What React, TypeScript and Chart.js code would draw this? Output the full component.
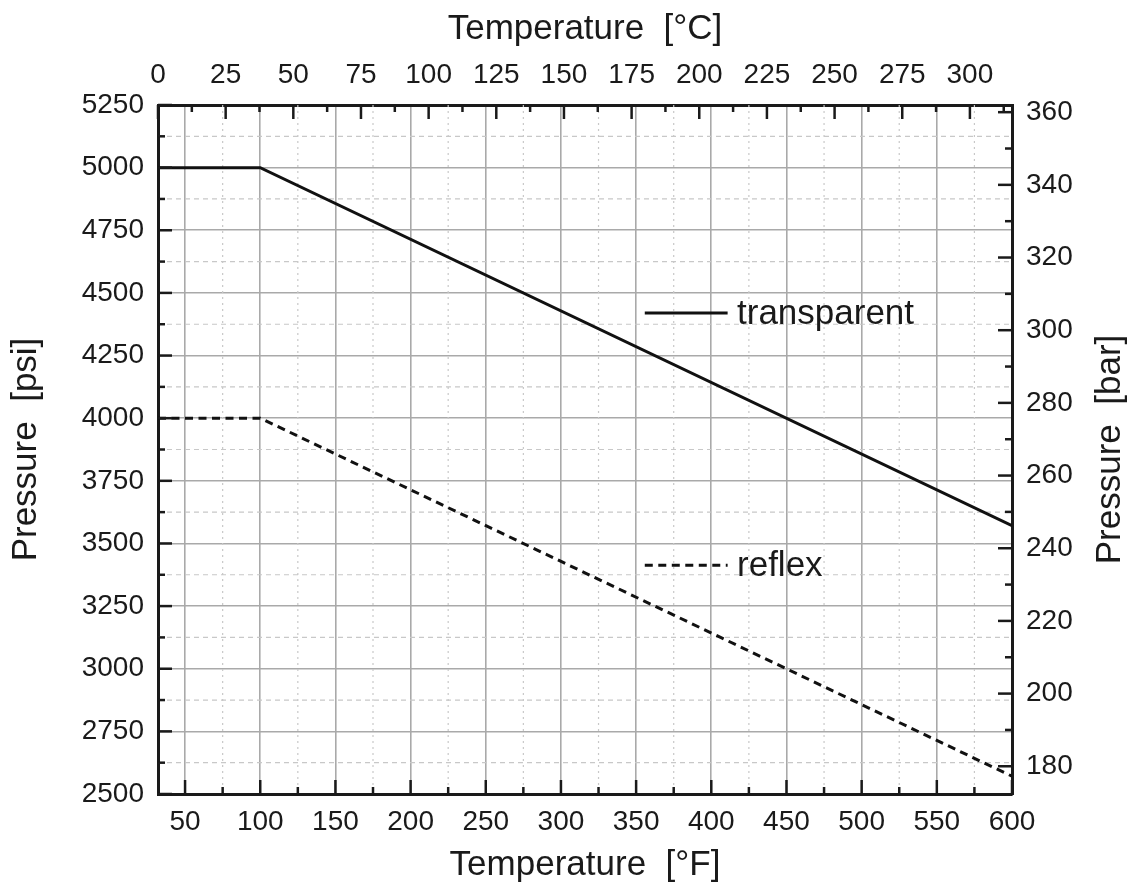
import React, { useEffect, useRef } from "react";
import { Chart, registerables } from "chart.js";

Chart.register(...registerables);

// ---------- data ----------
const seriesLabels = ["transparent", "reflex"];
const temperatureF = [32, 100, 600];
const transparentPsi = [5000, 5000, 3571];
const reflexPsi = [4000, 4000, 2571];

// ---------- axes ----------
const fahrenheitRange = [32, 600];
const psiRange = [2500, 5250];
const PSI_PER_BAR = 14.5038;
const fahrenheitMajor = 50;
const fahrenheitMinor = 25;
const celsiusMajor = 25;
const celsiusMinor = 12.5;
const psiMajor = 250;
const psiMinor = 125;
const barMajor = 20;
const barMinor = 10;

const titleBottom = "Temperature  [°F]";
const titleTop = "Temperature  [°C]";
const titleLeft = "Pressure  [psi]";
const titleRight = "Pressure  [bar]";

const toCelsius = (f: number) => (f - 32) / 1.8;
const plainLabel = (v: any) => String(Math.round(Number(v) * 100) / 100);

const FONT = '"Liberation Sans", Arial, Helvetica, sans-serif';
const INK = "#1a1a1a";
const W = 1132;
const H = 895;

function inwardTicks(ctx: CanvasRenderingContext2D, scale: any, side: string, minor: number, major: number, area: any) {
  const ratio = Math.round(major / minor);
  const i0 = Math.ceil(scale.min / minor - 1e-9);
  const i1 = Math.floor(scale.max / minor + 1e-9);
  for (let i = i0; i <= i1; i++) {
    const v = i * minor;
    const len = i % ratio === 0 ? 14 : 7;
    const p = scale.getPixelForValue(v);
    ctx.beginPath();
    if (side === "bottom") {
      ctx.moveTo(p, area.bottom);
      ctx.lineTo(p, area.bottom - len);
    } else if (side === "top") {
      ctx.moveTo(p, area.top);
      ctx.lineTo(p, area.top + len);
    } else if (side === "left") {
      ctx.moveTo(area.left, p);
      ctx.lineTo(area.left + len, p);
    } else {
      ctx.moveTo(area.right, p);
      ctx.lineTo(area.right - len, p);
    }
    ctx.stroke();
  }
}

const decorPlugin = {
  id: "decor",
  beforeDatasetsDraw(chart: any) {
    const { ctx, chartArea: a, scales } = chart;
    ctx.save();
    ctx.beginPath();
    ctx.rect(a.left, a.top, a.right - a.left, a.bottom - a.top);
    ctx.clip();
    // vertical minor grid (dotted)
    const xs = scales.x;
    ctx.strokeStyle = "#c8c8c8";
    ctx.lineWidth = 1.2;
    ctx.setLineDash([2, 4]);
    const r1 = Math.round(fahrenheitMajor / fahrenheitMinor);
    for (let i = Math.ceil(xs.min / fahrenheitMinor); i <= Math.floor(xs.max / fahrenheitMinor); i++) {
      if (i % r1 === 0) continue;
      const p = xs.getPixelForValue(i * fahrenheitMinor);
      ctx.beginPath();
      ctx.moveTo(p, a.top);
      ctx.lineTo(p, a.bottom);
      ctx.stroke();
    }
    // horizontal minor grid (dashed)
    const ys = scales.y;
    ctx.setLineDash([5, 4]);
    const r2 = Math.round(psiMajor / psiMinor);
    for (let i = Math.ceil(ys.min / psiMinor); i <= Math.floor(ys.max / psiMinor); i++) {
      if (i % r2 === 0) continue;
      const p = ys.getPixelForValue(i * psiMinor);
      ctx.beginPath();
      ctx.moveTo(a.left, p);
      ctx.lineTo(a.right, p);
      ctx.stroke();
    }
    ctx.restore();
  },
  afterDraw(chart: any) {
    const { ctx, chartArea: a, scales } = chart;
    ctx.save();
    ctx.strokeStyle = INK;
    ctx.lineWidth = 2.5;
    ctx.setLineDash([]);
    inwardTicks(ctx, scales.x, "bottom", fahrenheitMinor, fahrenheitMajor, a);
    inwardTicks(ctx, scales.xTop, "top", celsiusMinor, celsiusMajor, a);
    inwardTicks(ctx, scales.y, "left", psiMinor, psiMajor, a);
    inwardTicks(ctx, scales.yRight, "right", barMinor, barMajor, a);

    // legend inside the plot
    const legendY = [0.302, 0.668];
    const w = a.right - a.left;
    const h = a.bottom - a.top;
    chart.data.datasets.forEach((ds: any, i: number) => {
      const y = a.top + legendY[i] * h;
      const x0 = a.left + 0.57 * w;
      const x1 = a.left + 0.667 * w;
      ctx.strokeStyle = ds.borderColor;
      ctx.lineWidth = ds.borderWidth;
      ctx.setLineDash(ds.borderDash || []);
      ctx.beginPath();
      ctx.moveTo(x0, y);
      ctx.lineTo(x1, y);
      ctx.stroke();
      ctx.setLineDash([]);
      ctx.fillStyle = INK;
      ctx.font = `35px ${FONT}`;
      ctx.textAlign = "left";
      ctx.textBaseline = "middle";
      ctx.fillText(ds.label, a.left + 0.678 * w, y + 1);
    });

    // right axis title (reads bottom-to-top)
    ctx.save();
    ctx.translate(W - 22, (a.top + a.bottom) / 2);
    ctx.rotate(-Math.PI / 2);
    ctx.fillStyle = INK;
    ctx.font = `35px ${FONT}`;
    ctx.textAlign = "center";
    ctx.textBaseline = "middle";
    ctx.fillText(titleRight, 0, 0);
    ctx.restore();
    ctx.restore();
  },
};

const tickFont = { family: FONT, size: 28, lineHeight: 1 };
const titleFont = { family: FONT, size: 35, lineHeight: 1 };

export default function App() {
  const ref = useRef<HTMLCanvasElement | null>(null);

  useEffect(() => {
    if (!ref.current) return;
    const chart = new Chart(ref.current, {
      type: "scatter",
      data: {
        datasets: [
          {
            label: seriesLabels[0],
            data: temperatureF.map((t, i) => ({ x: t, y: transparentPsi[i] })),
            showLine: true,
            borderColor: "#111111",
            borderWidth: 3,
            pointRadius: 0,
            xAxisID: "x",
            yAxisID: "y",
          },
          {
            label: seriesLabels[1],
            data: temperatureF.map((t, i) => ({ x: t, y: reflexPsi[i] })),
            showLine: true,
            borderColor: "#111111",
            borderWidth: 3,
            borderDash: [8, 5.5],
            pointRadius: 0,
            xAxisID: "x",
            yAxisID: "y",
          },
        ],
      },
      options: {
        responsive: false,
        animation: false,
        devicePixelRatio: 1,
        layout: { padding: 0 },
        plugins: {
          legend: { display: false },
          tooltip: { enabled: false },
        },
        scales: {
          x: {
            type: "linear",
            position: "bottom",
            min: fahrenheitRange[0],
            max: fahrenheitRange[1],
            ticks: {
              stepSize: fahrenheitMajor,
              includeBounds: false,
              autoSkip: false,
              maxRotation: 0,
              padding: 14,
              color: INK,
              font: tickFont,
              callback: plainLabel,
            },
            grid: { color: "#a9a9a9", lineWidth: 1.6, drawTicks: false },
            border: { display: true, color: INK, width: 3 },
            title: {
              display: true,
              text: titleBottom,
              color: INK,
              font: titleFont,
              padding: { top: 0, bottom: 12 },
            },
            afterFit: (s: any) => {
              s.height = 101;
            },
          },
          xTop: {
            type: "linear",
            axis: "x",
            position: "top",
            min: toCelsius(fahrenheitRange[0]),
            max: toCelsius(fahrenheitRange[1]),
            ticks: {
              stepSize: celsiusMajor,
              includeBounds: false,
              autoSkip: false,
              maxRotation: 0,
              padding: 16,
              color: INK,
              font: tickFont,
              callback: plainLabel,
            },
            grid: { drawOnChartArea: false, drawTicks: false },
            border: { display: true, color: INK, width: 3 },
            title: {
              display: true,
              text: titleTop,
              color: INK,
              font: titleFont,
              padding: { top: 12, bottom: 0 },
            },
            afterFit: (s: any) => {
              s.height = 105;
            },
          },
          y: {
            type: "linear",
            position: "left",
            min: psiRange[0],
            max: psiRange[1],
            ticks: {
              stepSize: psiMajor,
              includeBounds: false,
              autoSkip: false,
              padding: 14,
              color: INK,
              font: tickFont,
              callback: plainLabel,
            },
            grid: { color: "#a9a9a9", lineWidth: 1.6, drawTicks: false },
            border: { display: true, color: INK, width: 3 },
            title: {
              display: true,
              text: titleLeft,
              color: INK,
              font: titleFont,
              padding: { top: 9, bottom: 0 },
            },
            afterFit: (s: any) => {
              s.width = 158;
            },
          },
          yRight: {
            type: "linear",
            axis: "y",
            position: "right",
            min: psiRange[0] / PSI_PER_BAR,
            max: psiRange[1] / PSI_PER_BAR,
            ticks: {
              stepSize: barMajor,
              includeBounds: false,
              autoSkip: false,
              padding: 14,
              color: INK,
              font: tickFont,
              callback: plainLabel,
            },
            grid: { drawOnChartArea: false, drawTicks: false },
            border: { display: true, color: INK, width: 3 },
            title: { display: false, text: titleRight },
            afterFit: (s: any) => {
              s.width = 120;
            },
          },
        },
      } as any,
      plugins: [decorPlugin],
    });
    return () => chart.destroy();
  }, []);

  return (
    <div style={{ position: "absolute", left: 0, top: 0, width: W, height: H, background: "#fff" }}>
      <canvas ref={ref} width={W} height={H} style={{ display: "block", width: W, height: H }} />
    </div>
  );
}
